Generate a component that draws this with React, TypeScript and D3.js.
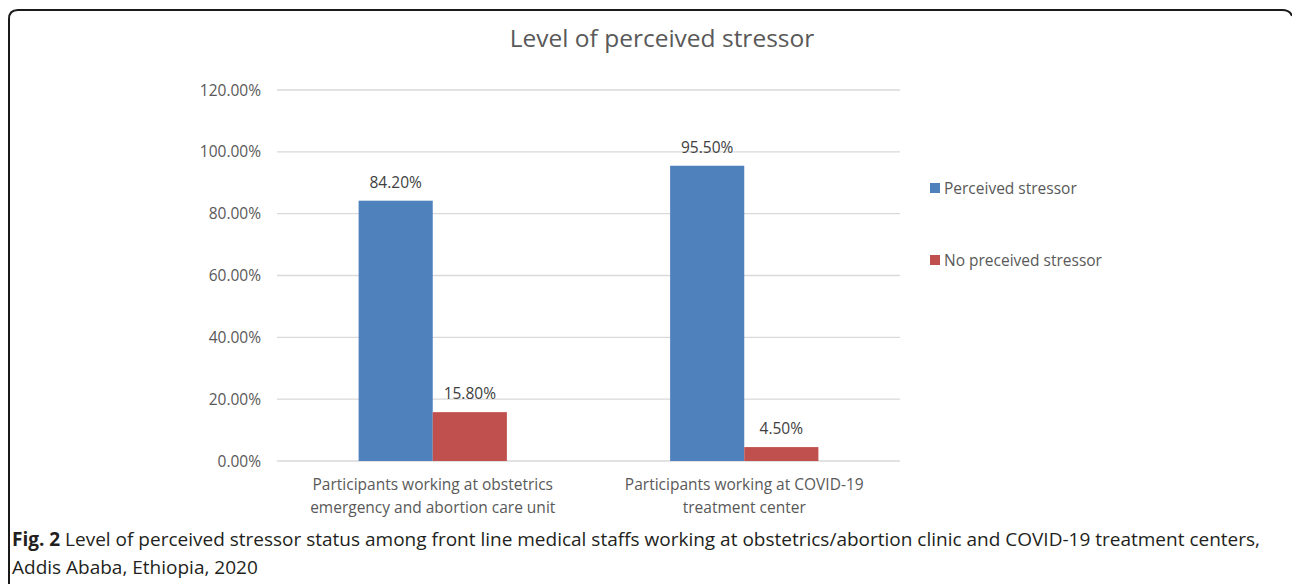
import React, { useEffect, useRef } from 'react';
import * as d3 from 'd3';

// Chart data
const categories = [
  ['Participants working at obstetrics', 'emergency and abortion care unit'],
  ['Participants working at COVID-19', 'treatment center'],
];
const seriesNames = ['Perceived stressor', 'No preceived stressor'];
const perceived = [84.2, 95.5];
const notPerceived = [15.8, 4.5];
const yTicks = [0, 20, 40, 60, 80, 100, 120];
const colors = ['#4F81BD', '#C0504D'];

const App = () => {
  const ref = useRef<SVGSVGElement | null>(null);

  useEffect(() => {
    const height = 584;
    const svg = d3.select(ref.current);
    svg.selectAll('*').remove();

    const font = "'Open Sans', sans-serif";
    const grey = '#595959';

    // Frame (rounded box that runs off the right and bottom edges)
    svg
      .append('path')
      .attr('d', `M9,${height + 5} L9,19 Q9,10 18,10 L1282,10 Q1290,10 1292,16`)
      .attr('fill', 'none')
      .attr('stroke', '#1a1a1a')
      .attr('stroke-width', 2);

    const left = 277;
    const right = 900;
    const top = 90;
    const bottom = 461;

    const x = d3
      .scaleBand<number>()
      .domain(d3.range(categories.length))
      .range([left, right])
      .paddingInner(0.524)
      .paddingOuter(0.262);

    const xInner = d3
      .scaleBand<number>()
      .domain([0, 1])
      .range([0, x.bandwidth()]);

    const y = d3.scaleLinear().domain([0, 120]).range([bottom, top]);

    // Title
    svg
      .append('text')
      .attr('x', 662)
      .attr('y', 47)
      .attr('text-anchor', 'middle')
      .attr('font-family', font)
      .attr('font-size', 24.5)
      .attr('fill', grey)
      .text('Level of perceived stressor');

    // Gridlines + y tick labels
    const grid = svg.append('g');
    grid
      .selectAll('line')
      .data(yTicks)
      .join('line')
      .attr('x1', left)
      .attr('x2', right)
      .attr('y1', (d) => y(d))
      .attr('y2', (d) => y(d))
      .attr('stroke', '#D9D9D9')
      .attr('stroke-width', 1.3);
    grid
      .selectAll('text')
      .data(yTicks)
      .join('text')
      .attr('x', 261)
      .attr('y', (d) => y(d) + 5.5)
      .attr('text-anchor', 'end')
      .attr('font-family', font)
      .attr('font-size', 15.5)
      .attr('fill', grey)
      .text((d) => d.toFixed(2) + '%');

    // Bars
    const series = [perceived, notPerceived];
    series.forEach((vals, s) => {
      const g = svg.append('g');
      g.selectAll('rect')
        .data(vals)
        .join('rect')
        .attr('x', (_, i) => (x(i) as number) + (xInner(s) as number))
        .attr('y', (d) => y(d))
        .attr('width', xInner.bandwidth())
        .attr('height', (d) => bottom - y(d))
        .attr('fill', colors[s]);
      g.selectAll('text')
        .data(vals)
        .join('text')
        .attr('x', (_, i) => (x(i) as number) + (xInner(s) as number) + xInner.bandwidth() / 2)
        .attr('y', (d) => y(d) - 13)
        .attr('text-anchor', 'middle')
        .attr('font-family', font)
        .attr('font-size', 15.5)
        .attr('fill', '#404040')
        .text((d) => d.toFixed(2) + '%');
    });

    // Category labels
    categories.forEach((lines, i) => {
      const cx = (x(i) as number) + x.bandwidth() / 2;
      lines.forEach((line, j) => {
        svg
          .append('text')
          .attr('x', cx)
          .attr('y', 490 + j * 23)
          .attr('text-anchor', 'middle')
          .attr('font-family', font)
          .attr('font-size', 15.5)
          .attr('fill', grey)
          .text(line);
      });
    });

    // Legend
    seriesNames.forEach((name, i) => {
      const ly = 188 + i * 72;
      svg
        .append('rect')
        .attr('x', 930)
        .attr('y', ly - 5)
        .attr('width', 10)
        .attr('height', 10)
        .attr('fill', colors[i]);
      svg
        .append('text')
        .attr('x', 944)
        .attr('y', ly + 5.5)
        .attr('font-family', font)
        .attr('font-size', 15.5)
        .attr('fill', grey)
        .text(name);
    });

    // Caption
    const cap = svg
      .append('text')
      .attr('x', 12)
      .attr('y', 546)
      .attr('font-family', font)
      .attr('font-size', 19)
      .attr('fill', '#231f20');
    cap.append('tspan').attr('font-weight', 'bold').text('Fig. 2');
    cap
      .append('tspan')
      .text(
        ' Level of perceived stressor status among front line medical staffs working at obstetrics/abortion clinic and COVID-19 treatment centers,'
      );
    svg
      .append('text')
      .attr('x', 12)
      .attr('y', 574)
      .attr('font-family', font)
      .attr('font-size', 19)
      .attr('fill', '#231f20')
      .text('Addis Ababa, Ethiopia, 2020');
  }, []);

  return (
    <svg
      ref={ref}
      width={1292}
      height={584}
      style={{ position: 'absolute', left: 0, top: 0, background: '#fff' }}
    />
  );
};

export default App;
